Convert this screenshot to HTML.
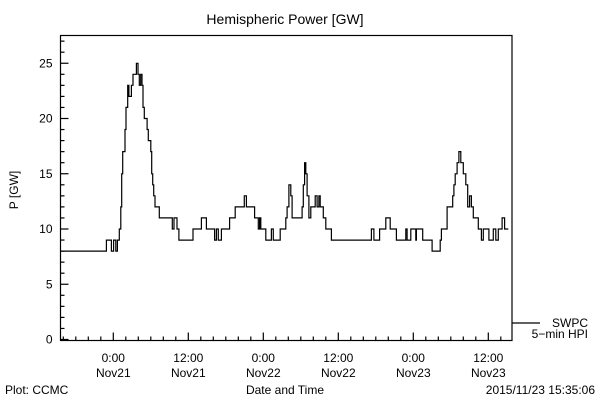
<!DOCTYPE html>
<html><head><meta charset="utf-8"><style>
body{margin:0;background:#fff}
svg{display:block;font-family:"Liberation Sans",sans-serif;font-size:12px}
</style></head><body>
<svg id="chart" width="600" height="400" viewBox="0 0 600 400" xmlns="http://www.w3.org/2000/svg">
<rect width="600" height="400" fill="#fff"/>
<text x="285" y="24" text-anchor="middle" font-size="14">Hemispheric Power [GW]</text>
<text x="0" y="0" transform="translate(18,190) rotate(-90)" text-anchor="middle">P [GW]</text>
<rect x="60.5" y="35.5" width="451.5" height="305" fill="none" stroke="#000" stroke-width="1.2"/>
<g id="axes"></g>
<path id="series" fill="none" stroke="#000" stroke-width="1.2"/>
<line x1="512" y1="323" x2="540" y2="323" stroke="#000" stroke-width="1.2"/>
<text x="588" y="327" text-anchor="end">SWPC</text>
<text x="588" y="338" text-anchor="end">5−min HPI</text>
<text x="5" y="394">Plot: CCMC</text>
<text x="285" y="394" text-anchor="middle">Date and Time</text>
<text x="595" y="394" text-anchor="end">2015/11/23 15:35:06</text>
</svg>
<script>
// step series: hours since 2015-11-21 00:00, power in GW
const stepHours = [-8.5,-1.1,-0.3,0.05,0.4,0.65,0.96,1.2,1.34,1.5,1.87,2.03,2.3,2.5,2.9,3.15,3.7,3.95,4.16,4.38,4.6,4.75,4.96,5.4,5.6,6.0,6.14,6.3,6.46,6.67,7.36,9.44,9.71,10.2,10.5,12.75,14.1,14.9,16.2,16.5,16.8,17.3,18.2,18.6,19.5,20.96,21.3,22.6,23.2,23.4,23.6,24.4,25.3,25.6,26.7,26.8,27.6,27.8,28.1,28.4,28.6,30.2,30.4,30.6,30.8,31.0,31.3,31.6,32.3,32.6,32.9,33.1,33.6,34.0,34.9,41.3,41.7,42.6,43.6,44.3,45.3,46.8,47.0,47.6,48.4,48.5,49.5,51.0,52.3,52.5,53.4,54.3,54.5,54.7,55.0,55.3,55.6,56.0,56.4,56.7,57.0,57.3,57.6,58.4,58.9,59.2,60.1,60.8,61.2,61.6,62.2,62.6];
const stepValues = [8,9,8,9,8,9,10,12,15,17,19,21,23,22,23,24,25,24,23,24,23,21,20,19,18,17,15,14,13,12,11,10,11,10,9,10,11,10,9,10,9,10,10,11,12,13,12,11,10,11,10,9,10,9,10,10,11,12,14,13,11,12,14,16,15,13,11,12,13,12,13,12,11,10,9,10,9,10,11,10,9,10,9,10,9,10,9,8,9,10,12,13,14,15,16,17,16,15,14,12,13,12,11,10,9,10,9,10,9,10,11,10];
const endHour = 63.2;
const yTicks = [0,5,10,15,20,25];
const xTickHours = [0,12,24,36,48,60];
const xTickTimes = ["0:00","12:00","0:00","12:00","0:00","12:00"];
const xTickDates = ["Nov21","Nov21","Nov22","Nov22","Nov23","Nov23"];

const X0=60.5, X1=512, YB=340.5;
function xs(h){return 113.3 + h*6.25;}
function ys(v){return 339.5 - v*11.05;}
const NS="http://www.w3.org/2000/svg";
const ax=document.getElementById('axes');
function line(x1,y1,x2,y2,name){
  const l=document.createElementNS(NS,'line');
  l.setAttribute('x1',x1);l.setAttribute('y1',y1);l.setAttribute('x2',x2);l.setAttribute('y2',y2);
  l.setAttribute('stroke','#000');l.setAttribute('stroke-width','1.2');
  
  
  ax.appendChild(l);
}
function text(x,y,s,anchor,name){
  const t=document.createElementNS(NS,'text');
  t.setAttribute('x',x);t.setAttribute('y',y);t.setAttribute('text-anchor',anchor);t.textContent=s;
  
  
  ax.appendChild(t);
}
// y minor ticks
for(let v=0; v<=27; v++){
  const major = v%5===0;
  line(X0, ys(v), X0+(major?8:4), ys(v), 'y-tick');
}
yTicks.forEach(v=>text(X0-8, ys(v)+4, String(v), 'end', 'y-tick-label'));
// x ticks every 2h
for(let h=-8; h<=62; h+=2){
  const major = h%12===0;
  line(xs(h), YB, xs(h), YB-(major?8:4), 'x-tick');
}
xTickHours.forEach((h,i)=>{
  text(xs(h), 362, xTickTimes[i], 'middle', 'x-tick-time');
  text(xs(h), 377, xTickDates[i], 'middle', 'x-tick-date');
});
// series
let d='';
for(let i=0;i<stepHours.length;i++){
  const x=xs(stepHours[i]), y=ys(stepValues[i]);
  d += (i===0?'M':'L')+x.toFixed(1)+','+y.toFixed(1)+' ';
  const nx = xs(i+1<stepHours.length?stepHours[i+1]:endHour);
  d += 'L'+nx.toFixed(1)+','+y.toFixed(1)+' ';
}
document.getElementById('series').setAttribute('d',d);
</script>
</body></html>
